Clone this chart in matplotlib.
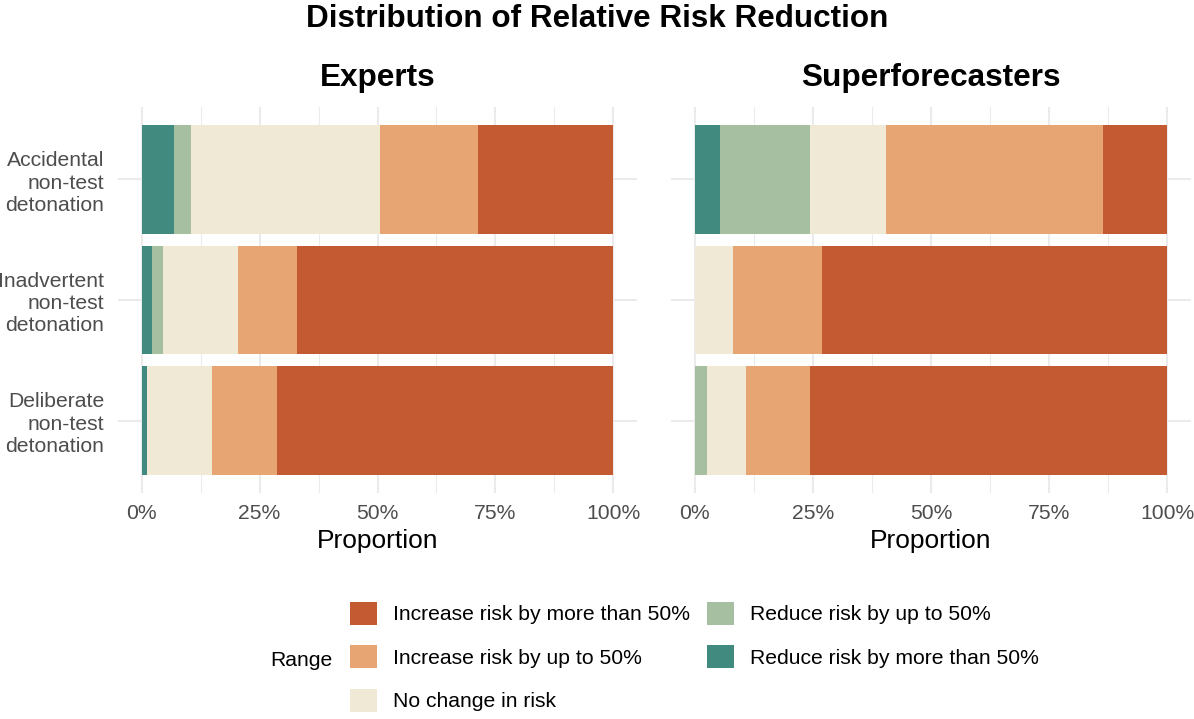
import matplotlib
matplotlib.use("Agg")
import matplotlib.pyplot as plt
from matplotlib.patches import Patch
import numpy as np

plt.rcParams['font.family'] = ['Liberation Sans', 'DejaVu Sans']

categories = ["Accidental\nnon-test\ndetonation",
              "Inadvertent\nnon-test\ndetonation",
              "Deliberate\nnon-test\ndetonation"]

# stacking order, left to right
ranges = ["Reduce risk by more than 50%", "Reduce risk by up to 50%",
          "No change in risk", "Increase risk by up to 50%",
          "Increase risk by more than 50%"]
colors = ["#408A80", "#A6BFA0", "#EFE9D6", "#E7A573", "#C35A32"]

# percentages per category (Accidental, Inadvertent, Deliberate)
experts = {
    "Reduce risk by more than 50%": [6.9, 2.3, 1.1],
    "Reduce risk by up to 50%": [3.5, 2.3, 0.0],
    "No change in risk": [40.2, 15.9, 13.8],
    "Increase risk by up to 50%": [20.7, 12.4, 13.8],
    "Increase risk by more than 50%": [28.7, 67.1, 71.3],
}
superforecasters = {
    "Reduce risk by more than 50%": [5.4, 0.0, 0.0],
    "Reduce risk by up to 50%": [18.9, 0.0, 2.7],
    "No change in risk": [16.2, 8.1, 8.1],
    "Increase risk by up to 50%": [45.9, 18.9, 13.5],
    "Increase risk by more than 50%": [13.5, 73.0, 75.7],
}
panels = [("Experts", experts), ("Superforecasters", superforecasters)]

W, H = 1194, 719
fig = plt.figure(figsize=(W / 100, H / 100), dpi=100)

axes_px = [(118, 637), (671, 1191)]
top, bottom = 107, 493

grid_col = "#EBEBEB"
for (name, data), (x0, x1) in zip(panels, axes_px):
    ax = fig.add_axes([x0 / W, 1 - bottom / H, (x1 - x0) / W, (bottom - top) / H])
    y = np.arange(len(categories))
    left = np.zeros(len(categories))
    for r, c in zip(ranges, colors):
        vals = np.array(data[r]) / 100
        ax.barh(y, vals, left=left, height=0.9, color=c, edgecolor='none', zorder=3)
        left += vals
    ax.set_xlim(-0.05, 1.05)
    ax.set_ylim(2.6, -0.6)
    ax.set_xticks([0, 0.25, 0.5, 0.75, 1.0])
    ax.set_xticklabels(["0%", "25%", "50%", "75%", "100%"])
    ax.set_xticks([0.125, 0.375, 0.625, 0.875], minor=True)
    ax.set_yticks(y)
    if name == "Experts":
        ax.set_yticklabels(categories, linespacing=1.22)
    else:
        ax.set_yticklabels([])
    ax.grid(True, which='major', color=grid_col, lw=1.5, zorder=0)
    ax.grid(True, which='minor', axis='x', color=grid_col, lw=0.75, zorder=0)
    ax.tick_params(which='both', length=0, labelsize=15.2, labelcolor="#4D4D4D")
    ax.tick_params(axis='x', pad=8)
    ax.tick_params(axis='y', pad=10)
    for s in ax.spines.values():
        s.set_visible(False)
    ax.set_title(name, fontsize=22.7, fontweight='bold', pad=15)
    ax.set_xlabel("Proportion", fontsize=19, labelpad=4)

fig.text(0.5, 1 - 19 / H, "Distribution of Relative Risk Reduction",
         ha='center', va='center', fontsize=22.6, fontweight='bold')

# legend: column-major, increase first
leg_order = ["Increase risk by more than 50%", "Increase risk by up to 50%",
             "No change in risk", "Reduce risk by up to 50%",
             "Reduce risk by more than 50%"]
handles = [Patch(facecolor=colors[ranges.index(r)], edgecolor='none') for r in leg_order]
fig.legend(handles, leg_order, loc='upper left',
           bbox_to_anchor=(350 / W, 1 - 602 / H), ncol=2, frameon=False,
           fontsize=15.2, handlelength=1.28, handleheight=1.28,
           handletextpad=0.76, labelspacing=0.98, columnspacing=0.8,
           borderpad=0, borderaxespad=0)
fig.text(270 / W, 1 - 660 / H, "Range", ha='left', va='center', fontsize=15.2)

fig.savefig("out.png", dpi=100)
